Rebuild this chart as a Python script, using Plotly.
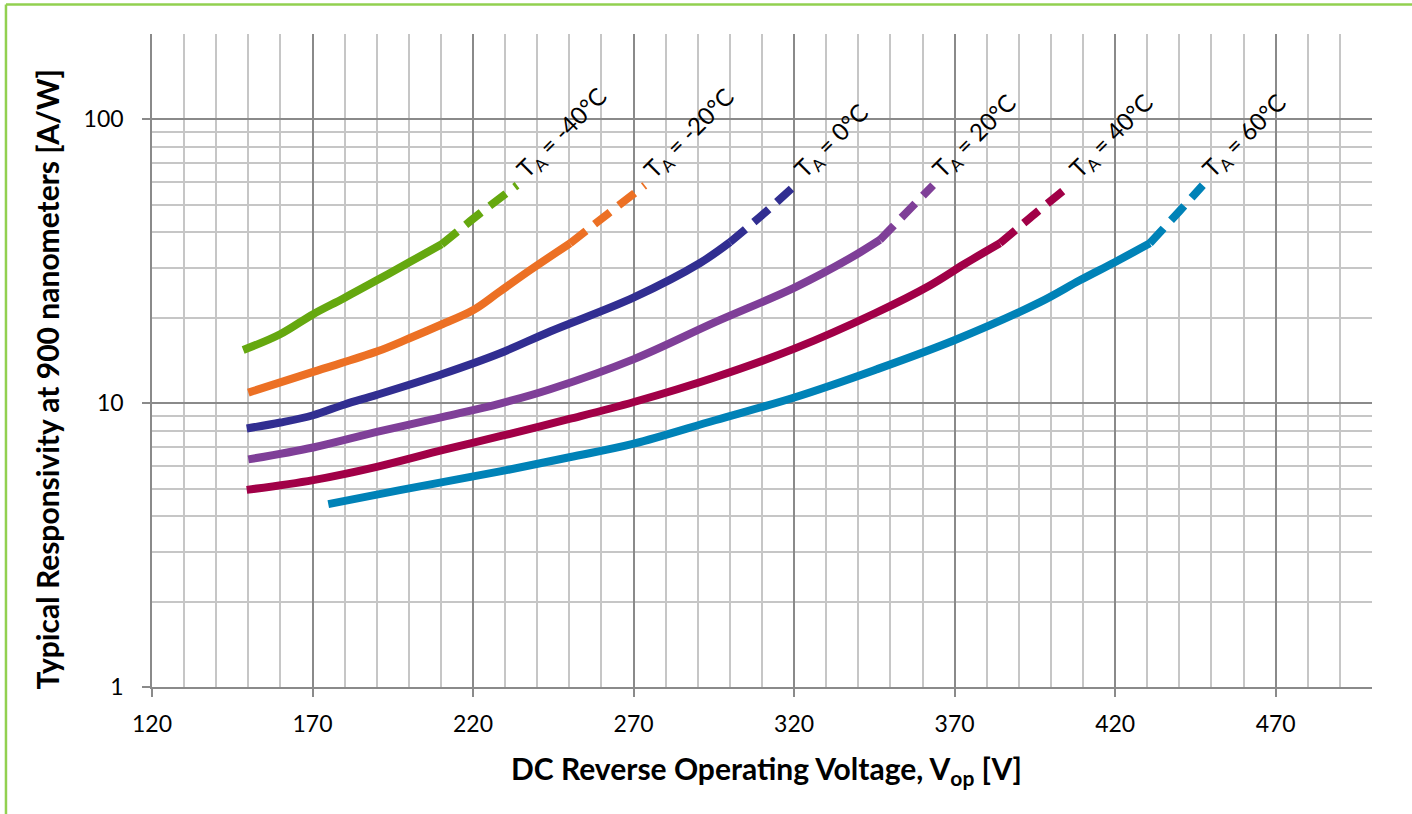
import math
import plotly.graph_objects as go

# ---- data ----
temps = ["-40", "-20", "0", "20", "40", "60"]
labels = ["T<sub>A</sub> = -40°C", "T<sub>A</sub> = -20°C", "T<sub>A</sub> = 0°C",
          "T<sub>A</sub> = 20°C", "T<sub>A</sub> = 40°C", "T<sub>A</sub> = 60°C"]
colors = ["#65a80f", "#ec7024", "#312e91", "#7f3f98", "#a10047", "#0082b7"]

v_m40 = [148.4, 159.9, 170.2, 179.6, 190.0, 200.4, 210.2]
r_m40 = [15.4, 17.5, 20.6, 23.4, 27.1, 31.5, 36.3]
vd_m40 = [210.2, 222.2, 233.7]
rd_m40 = [36.3, 46.7, 58.6]

v_m20 = [150.0, 170.2, 190.0, 200.0, 210.0, 220.1, 228.0, 237.7, 250.2]
r_m20 = [10.9, 12.9, 15.2, 16.9, 18.9, 21.3, 24.6, 29.4, 36.6]
vd_m20 = [250.2, 262.0, 273.5]
rd_m20 = [36.6, 46.5, 58.6]

v_0 = [149.5, 160.0, 170.2, 180.0, 190.0, 210.7, 228.4, 244.0, 270.1, 290.7, 300.0]
r_0 = [8.15, 8.55, 9.07, 9.9, 10.7, 12.7, 15.0, 17.9, 23.6, 31.2, 36.9]
vd_0 = [300.0, 310.5, 320.3]
rd_0 = [36.9, 46.5, 58.6]

v_20 = [150.0, 170.2, 190.0, 210.7, 228.4, 244.0, 270.1, 295.4, 320.3, 337.4, 346.7]
r_20 = [6.34, 6.98, 7.92, 8.95, 9.97, 11.2, 14.3, 19.3, 25.6, 32.4, 37.6]
vd_20 = [346.7, 355.0, 363.3]
rd_20 = [37.6, 47.0, 58.6]

v_40 = [149.5, 170.2, 190.0, 210.7, 228.4, 250.0, 270.1, 295.4, 320.3, 345.2, 362.3, 373.2, 384.1]
r_40 = [4.95, 5.36, 5.97, 6.85, 7.65, 8.8, 10.1, 12.35, 15.6, 20.75, 26.0, 31.0, 36.6]
vd_40 = [384.1, 395.0, 405.9]
rd_40 = [36.6, 46.5, 58.6]

v_60 = [174.9, 197.2, 228.4, 250.0, 270.1, 295.4, 320.3, 345.2, 370.1, 396.6, 409.0, 419.9, 430.8]
r_60 = [4.41, 4.94, 5.75, 6.45, 7.2, 8.71, 10.5, 13.1, 16.7, 22.7, 27.1, 31.4, 36.6]
vd_60 = [430.8, 440.0, 447.3]
rd_60 = [36.6, 47.5, 58.6]

solid_v = [v_m40, v_m20, v_0, v_20, v_40, v_60]
solid_r = [r_m40, r_m20, r_0, r_20, r_40, r_60]
dash_v = [vd_m40, vd_m20, vd_0, vd_20, vd_40, vd_60]
dash_r = [rd_m40, rd_m20, rd_0, rd_20, rd_40, rd_60]

x_title = "DC Reverse Operating Voltage, V<sub>op</sub> [V]"
y_title = "Typical Responsivity at 900 nanometers [A/W]"

FONT = "Lato"
LW = 8

fig = go.Figure()
for i in range(len(temps)):
    fig.add_trace(go.Scatter(x=solid_v[i], y=solid_r[i], mode="lines",
                             line=dict(color=colors[i], width=LW, shape="spline", smoothing=1.0),
                             showlegend=False, hoverinfo="skip"))
    fig.add_trace(go.Scatter(x=dash_v[i], y=dash_r[i], mode="lines",
                             line=dict(color=colors[i], width=LW, dash="20px,11px",
                                       shape="spline", smoothing=0.8),
                             showlegend=False, hoverinfo="skip"))

annotations = []
for i in range(len(temps)):
    annotations.append(dict(x=dash_v[i][-1], y=math.log10(dash_r[i][-1]),
                            xref="x", yref="y", text=labels[i], showarrow=False,
                            textangle=-45, xanchor="left", yanchor="bottom",
                            xshift=-10, yshift=-3,
                            font=dict(family=FONT, size=24, color="black")))

annotations.append(dict(x=0, y=0.5, xref="paper", yref="paper", text="<b>" + y_title + "</b>",
                        showarrow=False, textangle=-90, xanchor="center", yanchor="middle",
                        xshift=-106, yshift=-19, font=dict(family=FONT, size=30, color="black")))
annotations.append(dict(x=0.5, y=0, xref="paper", yref="paper", text="<b>" + x_title + "</b>",
                        showarrow=False, xanchor="center", yanchor="middle",
                        xshift=4, yshift=-83, font=dict(family=FONT, size=30, color="black")))

frame_color = "#92d050"
shapes = [
    dict(type="line", xref="paper", yref="paper", x0=-0.1197, x1=1.04, y0=1.0452, y1=1.0452,
         line=dict(color=frame_color, width=2.5)),
    dict(type="line", xref="paper", yref="paper", x0=-0.1197, x1=-0.1197, y0=1.0452, y1=-0.2,
         line=dict(color=frame_color, width=2.5)),
]

MAJ = "#8a8a8a"
MIN = "#c6c6c6"

fig.update_layout(
    width=1412, height=814,
    margin=dict(l=152, r=40, t=34, b=127),
    paper_bgcolor="white", plot_bgcolor="white",
    font=dict(family=FONT, size=23, color="black"),
    annotations=annotations, shapes=shapes,
    xaxis=dict(range=[120, 500], tick0=120, dtick=50, showgrid=True, gridcolor=MAJ, gridwidth=1.5,
               ticks="outside", ticklen=8, tickcolor=MAJ, tickwidth=1.5,
               showline=True, linecolor=MAJ, linewidth=1.5, zeroline=False,
               ticklabelstandoff=8,
               tickfont=dict(family=FONT, size=23, color="black"),
               minor=dict(dtick=10, tick0=120, showgrid=True, gridcolor=MIN, gridwidth=1.5, ticks="")),
    yaxis=dict(type="log", range=[0, 2.30103], dtick=1, showgrid=True, gridcolor=MAJ, gridwidth=1.5,
               ticks="outside", ticklen=8, tickcolor=MAJ, tickwidth=1.5,
               showline=True, linecolor=MAJ, linewidth=1.5, zeroline=False,
               ticklabelstandoff=14,
               tickfont=dict(family=FONT, size=23, color="black"),
               minor=dict(dtick="D1", showgrid=True, gridcolor=MIN, gridwidth=1.5, ticks="")),
)

fig.write_html("out.html", config={"displayModeBar": False},
               post_script="document.body.style.margin='0px';document.body.style.overflow='hidden';")
